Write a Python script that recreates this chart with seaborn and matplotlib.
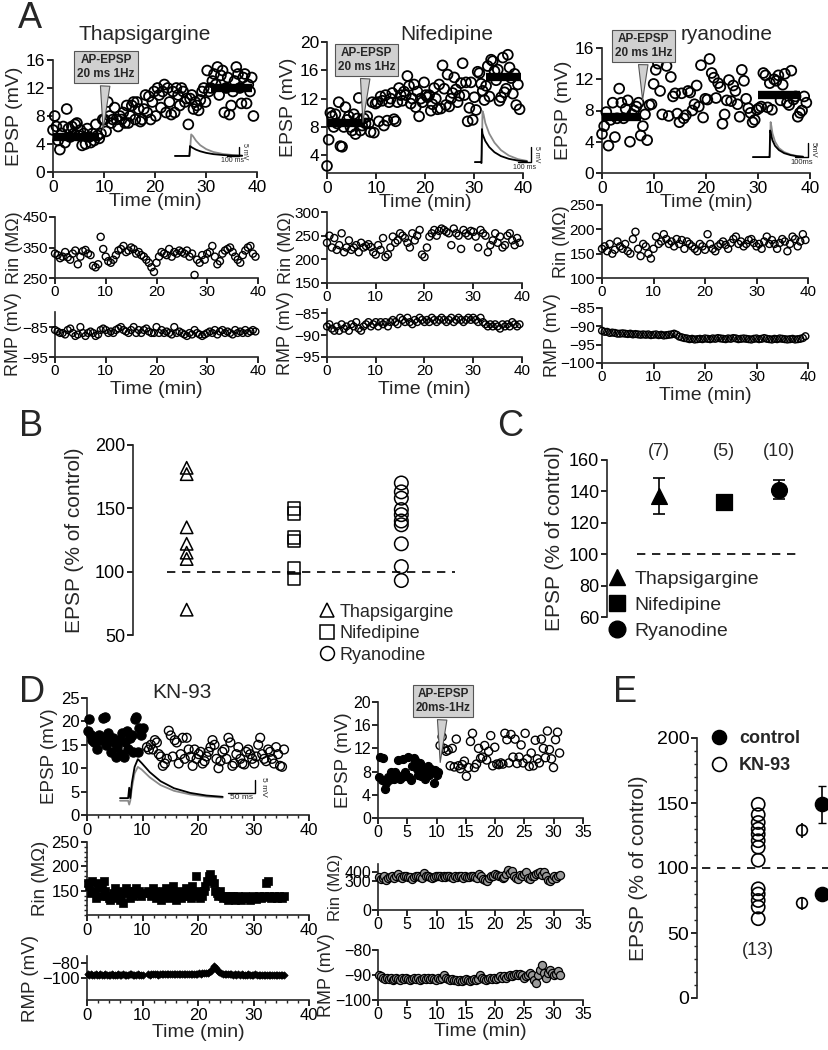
"""Multi-panel EPSP figure: time courses (A, D) and summary plots (B, C, E)."""
import matplotlib
matplotlib.use("Agg")
import matplotlib.pyplot as plt
import numpy as np
import seaborn as sns
from matplotlib.lines import Line2D
from matplotlib.ticker import MultipleLocator

# ---------------- panel A data ----------------
thap_epsp = [6, 8, 6.5, 4.5, 3.2, 5.5, 6.5, 4.2, 9, 6.2, 5, 6.5, 5.5, 6.8, 7, 5.2, 6, 3.8, 5.5, 4,
             6.2, 5, 4.2, 5.5, 4.5, 6.8, 5.2, 4.8, 5.5, 7.5,
             7.5, 5.8, 10, 8, 7, 7.5, 9.2, 7.5, 6.5, 8, 7.5, 8.5, 7, 9.5, 7, 8, 9.5, 10, 7.5, 10,
             9, 7.2, 7.5, 9, 11, 8.5, 10.8, 7.5, 10, 11.5,
             8, 12, 11, 9.2, 11.5, 12.5, 8.5, 12, 10, 8.2, 11.5, 8.5, 12, 11, 9.5, 12, 11.5, 10,
             10.5, 6.8, 10.5, 11, 9, 10, 9.5, 8.8, 10.3, 11.5, 12, 10,
             14.5, 11.5, 12, 13, 14, 12.5, 15, 11, 13.8, 14.5, 8.5, 12, 13.5, 8.2, 9.5, 11.5, 13,
             15, 14, 12, 9.8, 13.5, 14, 9.8, 12.5, 11.5, 13.5, 8]
nife_epsp = [2.5, 6.2, 10, 9.5, 8, 9.8, 8.5, 11.5, 5.3, 5.2, 8, 10.8, 9, 9.5, 8, 7.5, 9.8, 7, 9.2,
             12.1, 7.5, 8.2, 9.2, 8.5, 9.5, 8.5, 7.3, 11.5, 7.2, 11.3, 11.5, 8.8, 12.3, 11.7, 8.2,
             12.5, 8.9, 11.5, 12, 12.8, 9.1, 8.8, 11.5, 13.5, 12.5, 11.7, 13, 12.5, 15.2, 13.8,
             11.3, 12, 14, 10.8, 13, 9.5, 12, 11.5, 14.3, 12.5, 12.2, 12.5, 10.3, 11.2, 13.5, 12,
             10.5, 14, 10.6, 16.7, 13.4, 11.1, 15.4, 10.9, 12, 12.8, 15, 13.3, 11.5, 12.4, 14.2,
             17, 12.5, 14.3, 8.8, 10.7, 14.3, 9, 12.2, 10.4, 15.8, 15.6, 14.1, 13.1, 11.8, 13.8,
             16.6, 12.3, 17.5, 17.3, 15.9, 14.6, 16.1, 11.7, 12.2, 17.8, 12.9, 13.4, 18.2, 16.4,
             14.9, 12.7, 15.5, 11.1, 14, 10.5]
ryan_epsp = [5, 6, 7.8, 3.5, 6.8, 9, 4.6, 7, 10.8, 9, 7, 8.2, 9.3, 4, 7.5, 8, 8.5, 9, 4.8, 6, 7.5,
             4.2, 8.7, 8.8, 11.4, 13.2, 14, 10.5, 7.5, 14.8, 13.7, 7.3, 12.3, 9.8, 10.2, 7.6, 6.5,
             10.2, 7, 7.4, 10.5, 10.3, 8, 8.8, 11.2, 8.5, 13.8, 7.1, 9.5, 9.4, 14.6, 12.8, 12.2,
             9.6, 11.5, 11, 6.3, 7.5, 9.3, 11.9, 9.2, 11.2, 10.5, 8.8, 7.2, 13.2, 11.8, 9.5, 8.3,
             7.7, 6.5, 6.8, 8.1, 8.3, 8.5, 12.8, 12.5, 8.4, 11.5, 8.1, 12, 11.8, 12.5, 9.3, 11.3,
             12.7, 9, 8.7, 13.1, 9.4, 9.8, 7.2, 7.7, 8, 9.8, 9]
# mean bars before / after pairing: (level, start, end) in mV and min
thap_bars = [(5, 0, 9), (12, 31, 39)]
nife_bars = [(8.5, 0, 7.8), (15, 32.5, 39.5)]
ryan_bars = [(7.2, 0, 7.5), (10, 30, 38)]

thap_rin = [330, 325, 315, 320, 335, 318, 310, 330, 340, 295, 320, 338, 342, 330, 325, 290, 285,
            295, 385, 345, 320, 305, 300, 310, 325, 340, 345, 355, 335, 340, 350, 345, 330, 335,
            325, 320, 310, 300, 285, 270, 300, 320, 335, 330, 325, 345, 320, 335, 330, 340, 335,
            330, 340, 320, 330, 260, 310, 300, 325, 310, 330, 335, 355, 320, 295, 305, 330, 340,
            345, 350, 335, 320, 310, 300, 325, 340, 350, 355, 330, 320]
nife_rin = [235, 250, 225, 245, 220, 230, 255, 215, 225, 240, 220, 225, 230, 215, 235, 225, 228,
            232, 226, 215, 210, 230, 220, 245, 205, 210, 225, 248, 235, 240, 255, 250, 245, 235,
            225, 255, 240, 250, 262, 210, 205, 225, 248, 255, 262, 250, 260, 265, 262, 258, 255,
            230, 265, 255, 250, 222, 262, 255, 250, 260, 258, 248, 225, 262, 255, 250, 215, 230,
            240, 255, 235, 248, 225, 230, 250, 255, 240, 230, 245, 235]
ryan_rin = [160, 165, 155, 170, 150, 158, 175, 165, 160, 170, 155, 150, 180, 195, 160, 145, 170,
            165, 150, 140, 160, 185, 170, 175, 190, 180, 170, 175, 165, 180, 170, 178, 160, 175,
            170, 165, 160, 155, 170, 165, 158, 190, 170, 160, 155, 165, 170, 175, 168, 160, 172,
            180, 185, 170, 175, 165, 170, 178, 180, 172, 165, 170, 160, 175, 185, 170, 178, 170,
            160, 172, 180, 175, 155, 170, 185, 180, 165, 175, 190, 178]

thap_rmp = [-86, -86.5, -87, -87, -87.5, -86, -85.5, -87, -88, -87.5, -85, -87, -88, -87, -86.5,
            -87, -88, -87.5, -86, -85.5, -86, -87, -86.5, -87, -86, -85.5, -85, -86, -86.5, -87,
            -86, -85, -87, -86, -87, -86, -85.5, -86.5, -87, -87, -85, -87, -86, -87, -86.5, -87,
            -87.5, -85, -87, -86.5, -87, -87.5, -88, -87, -87.5, -86, -87, -87.5, -88, -87.5, -87,
            -86.5, -87, -86, -87.5, -86.5, -86, -87, -86.5, -87, -87.5, -86, -87, -86.5, -87, -86,
            -87, -86.5, -86, -86.5]
nife_rmp = [-88, -87.5, -88.5, -89, -88, -89, -87.5, -88.5, -88, -89, -87.5, -88, -87, -88.5, -89,
            -88, -87.5, -87, -88, -87.5, -87, -88, -87, -87.5, -87, -88, -87, -86.5, -87, -87.5,
            -86, -86.5, -87, -86, -87, -87.5, -86.5, -87, -86, -86.5, -87, -86.5, -87, -86,
            -86.5, -87, -86.5, -86, -86.5, -87, -86.5, -86, -87, -86.5, -86, -86.5, -87, -86.5,
            -86, -86.5, -86, -86.5, -87, -86, -87, -87.5, -88, -87.5, -88, -87.5, -88, -88.5,
            -87.5, -88, -87.5, -88, -87, -87.5, -88, -87.5]
ryan_rmp = [-91.2, -91.5, -91.5, -91.8, -91.7, -91.8, -92, -92, -91.9, -92, -92.1, -92, -92.2,
            -92.1, -92.2, -92.3, -92.2, -92.3, -92.2, -92.4, -92.3, -92.2, -92.4, -92.3, -92.5,
            -92.4, -92.3, -92.2, -92, -92.3, -92.8, -93, -93.2, -93.3, -93.5, -93.4, -93.6,
            -93.5, -93.4, -93.5, -93.3, -93.4, -93.5, -93.3, -93.4, -93.2, -93.3, -93.4, -93.5,
            -93.3, -93.4, -93.2, -93.3, -93.5, -93.4, -93.3, -93.4, -93.5, -93.6, -93.4, -93.3,
            -93.5, -93.4, -93.2, -93.4, -93.5, -93.6, -93.4, -93.5, -93.3, -93.4, -93.5, -93.6,
            -93.5, -93.4, -93.6, -93.5, -93.4, -93.2, -92.7]

# inset traces (ms, mV)
a1_t = [0, 110, 120, 125, 135, 150, 175, 210, 260, 320, 400, 480, 560]
a1_gray = [0, 0, 0, 3, 12, 11, 8.5, 6, 3.8, 2.2, 1.1, 0.5, 0.2]
a1_black = [0, 0, 0, 5.5, 5, 4.4, 3.5, 2.6, 1.7, 1, 0.5, 0.2, 0.1]
a2_t = [0, 45, 50, 54, 58, 66, 80, 110, 150, 200, 260, 330, 400]
a2_gray = [0, 0, -0.3, 3, 17, 16, 13, 9.5, 6.5, 4, 2.2, 1, 0.4]
a2_black = [0, 0, -0.3, 11, 9.5, 8.5, 7, 5, 3.3, 2, 1.1, 0.5, 0.2]
a3_t = [0, 120, 128, 132, 136, 142, 150, 170, 200, 240, 290, 340, 385]
a3_gray = [0, 0, 0, 4, 12.5, 11, 8.5, 5.5, 3.2, 1.8, 0.9, 0.4, 0.2]
a3_black = [0, 0, 0, 9.5, 9, 7.5, 6, 4, 2.5, 1.4, 0.7, 0.3, 0.1]
d_t = [0, 15, 17, 19, 22, 27, 33, 40, 55, 75, 100, 130, 160, 190]
d_gray = [-1, -1, -2.5, -1, 4, 9.5, 12, 11, 8, 5, 2.8, 1.4, 0.6, 0.2]
d_black = [0, 0, 4, 0, 6, 12, 15, 13.5, 10, 6.5, 3.8, 2, 1, 0.5]

# ---------------- panel B / C data ----------------
groups = ["Thapsigargine", "Nifedipine", "Ryanodine"]
b_thap = [182, 177, 135, 122, 115, 110, 70]
b_nife = [150, 146, 127, 124, 103, 94]
b_ryan = [170, 163, 158, 149, 145, 140, 137, 122, 104, 93]
c_mean = [137, 133, 141]
c_err = [11.5, 2, 6]
c_n = ["(7)", "(5)", "(10)"]

# ---------------- panel D data ----------------
kn_epsp_pre = [18, 20.5, 17, 16, 15.5, 16.5, 14, 17, 16, 16.5, 20.8, 21, 15, 17.5, 16, 13.5,
               16.5, 15.5, 12.5, 14.5, 16, 13, 17.5, 12.5, 15.5, 18, 14, 16.5, 17, 13.5, 20.5,
               21, 13.5, 18.5, 17, 18.5]
kn_epsp_post = [14.5, 14, 15, 14, 16, 15.5, 13, 12.5, 10.5, 11, 12, 18, 17, 12.5, 16, 15.5, 11,
                13, 16.5, 12, 16.5, 14, 12.5, 10.5, 14, 12, 13, 13.5, 11, 11.5, 12.5, 13.5,
                14.5, 16, 15, 12, 10, 11.5, 13.5, 14, 12, 16.5, 15.5, 10.5, 11, 13, 14.5, 12,
                11, 10.8, 13.5, 14, 13, 12, 11, 12.5, 15, 16.5, 13, 12, 11.5, 14, 13.5, 12, 11,
                14.5, 13, 10.5, 10.3, 14]
kn_rin_pre = [165, 160, 145, 170, 150, 135, 165, 155, 140, 160, 170, 150, 140, 135, 130, 140, 145,
              155, 135, 150, 130, 140, 125, 145, 155, 150, 135, 145, 140, 150, 155, 145, 150,
              140, 145]
kn_rin_post = [150, 145, 140, 155, 150, 135, 145, 140, 130, 150, 145, 155, 140, 135, 150, 160,
               145, 130, 140, 150, 135, 145, 140, 155, 150, 140, 135, 160, 145, 180, 140, 150,
               135, 140, 150, 160, 170, 180, 185, 175, 165, 150, 145, 140, 150, 140, 135, 140,
               135, 130, 140, 135, 140, 130, 135, 140, 135, 130, 135, 140, 138, 135, 130, 135,
               140, 135, 132, 138, 140, 135, 138, 140, 165, 170, 140, 135, 138, 140, 138, 135,
               140, 138, 135, 140]
kn_rmp_pre = [-95, -95.5, -95, -96, -95.5, -95, -96, -95.5, -95, -95.5, -96, -95, -95.5, -96,
              -95.5, -95, -95.5, -96, -95.5, -95, -96, -95.5, -95, -95.5, -96, -95.5, -95, -95,
              -95.5, -96, -95.5, -95, -95.5, -96, -95.5]
kn_rmp_post = [-95, -95.5, -95, -95, -94.5, -95, -95.5, -95, -94.5, -95, -95, -94.5, -95, -95,
               -94.5, -95, -95, -94.5, -94, -94.5, -95, -94.5, -94, -94.5, -94, -94.5, -94, -94,
               -94.5, -94, -93.5, -94, -93.5, -93, -93.5, -93, -92, -90, -87, -84, -87, -90,
               -92, -93.5, -94, -94.5, -95, -94.5, -95, -95, -95.5, -95, -95.5, -95, -95.5, -95,
               -95.5, -96, -95.5, -95, -95.5, -96, -95.5, -95, -95.5, -96, -95.5, -96, -95.5,
               -96, -96.5, -96, -95.5, -96, -96.5, -96, -96.5, -96, -96.5, -96, -96.5]
ctl_epsp_pre = [7, 10.5, 6.5, 10.3, 5, 6, 7, 6.5, 8, 7.5, 6.8, 8, 7.5, 10, 6.7, 7, 10.2, 8, 7.3,
                10.5, 7, 6.5, 9, 10.3, 10, 8.5, 7.5, 9.5, 7.2, 8.5, 6.8, 8.2, 9, 7.5, 8.5, 8, 6,
                8.2, 7.5, 8]
ctl_epsp_post = [12.5, 14, 12, 11.5, 11.7, 9, 12, 8.8, 13.6, 9, 8.5, 9.2, 9.8, 7.2, 8.7, 13.2,
                 14.6, 8.7, 9.3, 12, 10.3, 10.5, 12.5, 10, 11.5, 14.2, 9, 12.2, 9.3, 9.2, 9.5,
                 9.3, 14.6, 13.5, 9.5, 14.4, 10.5, 13.6, 9.4, 10.5, 12.6, 9.5, 14.6, 10.2, 8.9,
                 11.2, 9, 13.4, 10.2, 9.5, 13.6, 12, 10.4, 15, 11.8, 10.2, 8.7, 13.5, 14.8, 11.2]
ctl_rin = [340, 320, 330, 350, 310, 330, 340, 360, 330, 350, 380, 340, 330, 350, 360, 340, 345,
           320, 340, 350, 360, 340, 330, 390, 360, 350, 340, 330, 345, 350, 360, 355, 340, 350,
           345, 360, 350, 340, 330, 350, 340, 350, 360, 330, 350, 340, 345, 350, 360, 340, 330,
           380, 350, 320, 310, 300, 330, 350, 360, 380, 370, 350, 360, 330, 340, 380, 420, 390,
           410, 350, 330, 320, 370, 350, 380, 400, 330, 320, 350, 360, 380, 390, 400, 370, 400,
           360, 310, 300, 320, 350, 330, 360, 370]
ctl_rmp = [-90, -90.5, -91, -91.5, -91, -91.5, -91, -92, -91.5, -91, -91.5, -92, -91, -91.5, -91,
           -91.5, -92, -91.5, -91, -91.5, -91, -92, -91.5, -91, -91.5, -91, -91.5, -91, -91.5,
           -92, -91, -91.5, -91, -90, -91, -91.5, -92, -91.5, -92, -92, -92.5, -92, -92.5, -92,
           -91.5, -92, -92.5, -92, -91.5, -92, -91.5, -90, -91, -91.5, -92, -91.5, -91, -91.5,
           -91, -91.5, -91, -90.5, -91, -90.5, -91, -90.5, -90, -90.5, -90, -89.5, -90, -89.5,
           -90, -91, -90.5, -90, -89, -90, -92, -93, -90, -88, -86, -89, -91, -89, -88, -89,
           -90, -89.5, -88.5, -90]

# ---------------- panel E data ----------------
e_kn = [149, 141, 135, 130, 126, 121, 116, 106, 84, 80, 75, 70, 61]
e_kn_mean = [129, 73]
e_kn_err = [6, 5]
e_ctl_mean = [149, 80]
e_ctl_err = [14, 3]

# ---------------- figure ----------------
sns.set_style("ticks")
plt.rcParams["font.family"] = ["Liberation Sans", "DejaVu Sans"]
plt.rcParams["axes.linewidth"] = 1.2

W, H = 829, 1050
fig = plt.figure(figsize=(W / 100, H / 100), dpi=100)


def add_ax(l, t, r, b):
    ax = fig.add_axes([l / W, 1 - b / H, (r - l) / W, (b - t) / H])
    ax.patch.set_alpha(0)
    sns.despine(ax=ax)
    ax.tick_params(direction="out", length=4, width=1.2, pad=1.5, colors="black")
    return ax


def ftext(x, y, s, **kw):
    fig.text(x / W, 1 - y / H, s, **kw)


def dots(ax, t, v, s, fc="none", marker="o", lw=1.2):
    sns.scatterplot(x=t, y=v, ax=ax, marker=marker, s=s, facecolor=fc,
                    edgecolor="black", linewidth=lw, clip_on=False, zorder=3)


def callout(ax, text, tip, box):
    ax.annotate(text, xy=tip, xytext=box, ha="center", va="center", fontsize=8.5,
                fontweight="bold", annotation_clip=False, zorder=6,
                bbox=dict(boxstyle="square,pad=0.25", fc="#d0d0d0", ec="#555555", lw=0.8),
                arrowprops=dict(arrowstyle="wedge,tail_width=0.8,shrink_factor=0.5",
                                fc="#d0d0d0", ec="#555555", lw=0.8))


def trace_inset(box, xlim, ylim, t, gray, black, bar_t, bar_ms, bar_mv, bar_y,
                ms_text, mv_text, fs):
    l, tp, r, b = box
    ax = fig.add_axes([l / W, 1 - b / H, (r - l) / W, (b - tp) / H])
    ax.set_axis_off()
    sns.lineplot(x=t, y=gray, ax=ax, color="#8a8a8a", lw=1.3, estimator=None, sort=False)
    sns.lineplot(x=t, y=black, ax=ax, color="black", lw=1.3, estimator=None, sort=False)
    ax.plot([bar_t - bar_ms, bar_t, bar_t], [bar_y, bar_y, bar_y + bar_mv], color="black", lw=1)
    ax.text(bar_t - bar_ms / 2, bar_y - 0.6, ms_text, ha="center", va="top", fontsize=fs)
    ax.text(bar_t + (xlim[1] - xlim[0]) * 0.03, bar_y + bar_mv / 2, mv_text, rotation=-90,
            ha="left", va="center", fontsize=fs)
    ax.set_xlim(xlim)
    ax.set_ylim(ylim)


# ---- panel A ----
cols = [
    dict(title="Thapsigargine", tx=145, epsp=thap_epsp, bars=thap_bars,
         ebox=(53, 60, 257, 172), elim=(0, 16), eticks=[0, 4, 8, 12, 16],
         tip=(9.8, 5.6), boxc=(10.4, 15.0), btxt="AP-EPSP\n20 ms 1Hz",
         rin=thap_rin, rbox=(55, 217, 258, 278), rlim=(250, 450), rticks=[250, 350, 450],
         rmp=thap_rmp, mbox=(55, 312, 258, 357), mlim=(-95, -80), mticks=[-95, -85]),
    dict(title="Nifedipine", tx=447, epsp=nife_epsp, bars=nife_bars,
         ebox=(327, 42, 523, 173), elim=(1.5, 20), eticks=[4, 8, 12, 16, 20],
         tip=(7.3, 8.3), boxc=(8.0, 17.5), btxt="AP-EPSP\n20 ms 1Hz",
         rin=nife_rin, rbox=(327, 212, 522, 283), rlim=(150, 300),
         rticks=[150, 200, 250, 300],
         rmp=nife_rmp, mbox=(327, 309, 522, 357), mlim=(-95, -84), mticks=[-95, -90, -85]),
    dict(title="ryanodine", tx=727, epsp=ryan_epsp, bars=ryan_bars,
         ebox=(602, 48, 810, 173), elim=(0, 16), eticks=[0, 4, 8, 12, 16],
         tip=(7.8, 9.0), boxc=(8.0, 16.3), btxt="AP-EPSP\n20 ms 1Hz",
         rin=ryan_rin, rbox=(602, 205, 808, 278), rlim=(100, 250),
         rticks=[100, 150, 200, 250],
         rmp=ryan_rmp, mbox=(602, 308, 808, 363), mlim=(-100, -85),
         mticks=[-100, -95, -90, -85]),
]

for c in cols:
    ax = add_ax(*c["ebox"])
    dots(ax, np.linspace(0, 39.3, len(c["epsp"])), c["epsp"], 50, lw=1.3)
    for lvl, x0, x1 in c["bars"]:
        ax.hlines(lvl, x0, x1, color="black", lw=6, zorder=4)
    ax.set_xlim(0, 40)
    ax.set_ylim(*c["elim"])
    ax.set_xticks([0, 10, 20, 30, 40])
    ax.set_yticks(c["eticks"])
    ax.tick_params(labelsize=12.5)
    ax.set_ylabel("EPSP (mV)", fontsize=14, labelpad=2)
    ax.set_xlabel("Time (min)", fontsize=14, labelpad=-1)
    callout(ax, c["btxt"], c["tip"], c["boxc"])
    ftext(c["tx"], 35, c["title"], fontsize=15, ha="center", va="center")

    ax = add_ax(*c["rbox"])
    dots(ax, np.linspace(0, 39.5, len(c["rin"])), c["rin"], 26, lw=1.0)
    ax.set_xlim(0, 40)
    ax.set_ylim(*c["rlim"])
    ax.set_xticks([0, 10, 20, 30, 40])
    ax.set_yticks(c["rticks"])
    ax.tick_params(labelsize=11, pad=1)
    ax.set_ylabel("Rin (M\u03a9)", fontsize=13, labelpad=0)

    ax = add_ax(*c["mbox"])
    dots(ax, np.linspace(0, 39.5, len(c["rmp"])), c["rmp"], 24, lw=1.0)
    ax.set_xlim(0, 40)
    ax.set_ylim(*c["mlim"])
    ax.set_xticks([0, 10, 20, 30, 40])
    ax.set_yticks(c["mticks"])
    ax.tick_params(labelsize=11, pad=1)
    ax.set_ylabel("RMP (mV)", fontsize=13, labelpad=0)
    ax.set_xlabel("Time (min)", fontsize=14, labelpad=2)

trace_inset((172, 122, 252, 166), (-25, 642), (-5.6, 18.9), a1_t, a1_gray, a1_black,
            533, 100, 5, 0, "100 ms", "5 mV", 5)
trace_inset((470, 100, 545, 172), (-38, 539), (-3.3, 20.7), a2_t, a2_gray, a2_black,
            431, 100, 5, 0, "100 ms", "5 mV", 5)
trace_inset((748, 110, 822, 170), (-38, 531), (-4.6, 16.8), a3_t, a3_gray, a3_black,
            423, 100, 5, 0, "100ms", "5mV", 5.5)

# ---- panel B ----
ax = add_ax(133, 445, 455, 635)
ax.spines["bottom"].set_visible(False)
for i, (vals, mk, sz) in enumerate([(b_thap, "^", 80), (b_nife, "s", 80), (b_ryan, "o", 95)]):
    dots(ax, np.full(len(vals), i + 1.0), vals, sz, marker=mk, lw=1.1)
ax.hlines(100, 0.82, 3.5, color="black", lw=1.2, linestyles=(0, (5, 4)))
ax.set_xlim(0.5, 3.5)
ax.set_ylim(50, 200)
ax.set_yticks([50, 100, 150, 200])
ax.set_xticks([])
ax.tick_params(labelsize=13)
ax.set_ylabel("EPSP (% of control)", fontsize=15, labelpad=8)
handles = [Line2D([], [], ls="", marker=m, ms=10, mfc="none", mec="black", mew=1.1)
           for m in ["^", "s", "o"]]
ax.legend(handles, groups, loc="upper left", bbox_to_anchor=(0.58, 0.165), frameon=False,
          fontsize=13, handlelength=0.8, handletextpad=0.3, labelspacing=0.25,
          borderpad=0, borderaxespad=0)

# ---- panel C ----
ax = add_ax(607, 460, 800, 617)
ax.spines["bottom"].set_visible(False)
for i, mk in enumerate(["^", "s", "o"]):
    xi = i + 1.0 + (0.08 if i == 1 else 0)
    ax.errorbar(xi, c_mean[i], yerr=c_err[i], fmt="none",
                ecolor="black", elinewidth=1.2, capsize=4, capthick=1.2, zorder=2)
    sns.scatterplot(x=[xi], y=[c_mean[i]], ax=ax, marker=mk,
                    s=130, color="black", edgecolor="black", zorder=3, clip_on=False)
    ax.text(xi, 160, c_n[i], ha="center", va="bottom", fontsize=13)
ax.hlines(100, 0.63, 3.3, color="black", lw=1.2, linestyles=(0, (5, 4)))
ax.set_xlim(0.13, 3.35)
ax.set_ylim(60, 160)
ax.set_yticks([60, 80, 100, 120, 140, 160])
ax.set_xticks([])
ax.tick_params(labelsize=13)
ax.set_ylabel("EPSP (% of control)", fontsize=15, labelpad=4)
handles = [Line2D([], [], ls="", marker=m, ms=12, mfc="black", mec="black")
           for m in ["^", "s", "o"]]
ax.legend(handles, groups, loc="upper left", bbox_to_anchor=(0.0, 0.3), frameon=False,
          fontsize=14, handlelength=1.0, handletextpad=0.4, labelspacing=0.45,
          borderpad=0, borderaxespad=0)

# ---- panel D (left: KN-93) ----
DL, DR = 87, 309
ax = add_ax(DL, 698, DR, 815)
dots(ax, np.linspace(0.1, 10, len(kn_epsp_pre)), kn_epsp_pre, 45, fc="black", lw=0.8)
dots(ax, np.linspace(10.8, 35.5, len(kn_epsp_post)), kn_epsp_post, 40, lw=1.0)
ax.set_xlim(0, 40)
ax.set_ylim(0, 25)
ax.set_xticks([0, 10, 20, 30, 40])
ax.set_yticks([0, 5, 10, 15, 20, 25])
ax.xaxis.set_minor_locator(MultipleLocator(2))
ax.tick_params(labelsize=12)
ax.tick_params(which="minor", direction="out", length=2, width=1)
ax.set_ylabel("EPSP (mV)", fontsize=13.5, labelpad=2)
ftext(182, 693, "KN-93", fontsize=15, ha="center", va="center")

ax = add_ax(DL, 842, DR, 915)
dots(ax, np.linspace(0.1, 10, len(kn_rin_pre)), kn_rin_pre, 28, fc="black", marker="s", lw=0.5)
dots(ax, np.linspace(11, 35.5, len(kn_rin_post)), kn_rin_post, 28, fc="black", marker="s",
     lw=0.5)
ax.set_xlim(0, 40)
ax.set_ylim(100, 250)
ax.set_xticks([0, 10, 20, 30, 40])
ax.set_yticks([150, 200, 250])
ax.xaxis.set_minor_locator(MultipleLocator(2))
ax.yaxis.set_minor_locator(MultipleLocator(10))
ax.tick_params(labelsize=12)
ax.tick_params(which="minor", direction="out", length=2, width=1)
ax.set_ylabel("Rin (M\u03a9)", fontsize=13.5, labelpad=2)

ax = add_ax(DL, 956, DR, 1000)
dots(ax, np.linspace(0.1, 10, len(kn_rmp_pre)), kn_rmp_pre, 14, fc="black", marker="D", lw=0.5)
dots(ax, np.linspace(11, 35.5, len(kn_rmp_post)), kn_rmp_post, 14, fc="black", marker="D",
     lw=0.5)
ax.set_xlim(0, 40)
ax.set_ylim(-130, -70)
ax.set_xticks([0, 10, 20, 30, 40])
ax.set_yticks([-100, -80])
ax.xaxis.set_minor_locator(MultipleLocator(2))
ax.tick_params(labelsize=12)
ax.tick_params(which="minor", direction="out", length=2, width=1)
ax.set_ylabel("RMP (mV)", fontsize=13.5, labelpad=2)
ax.set_xlabel("Time (min)", fontsize=14, labelpad=1)

trace_inset((115, 750, 270, 808), (-9.3, 277.7), (-3.8, 18.5), d_t, d_gray, d_black,
            250, 50, 5, 2, "50 ms", "5 mV", 6)

# ---- panel D (right: control) ----
ax = add_ax(378, 702, 583, 818)
dots(ax, np.linspace(0.1, 10.3, len(ctl_epsp_pre)), ctl_epsp_pre, 34, fc="black", lw=0.8)
dots(ax, np.linspace(10.6, 31, len(ctl_epsp_post)), ctl_epsp_post, 34, lw=1.0)
ax.set_xlim(0, 35)
ax.set_ylim(0, 20)
ax.set_xticks([0, 5, 10, 15, 20, 25, 30, 35])
ax.set_yticks([0, 4, 8, 12, 16, 20])
ax.tick_params(labelsize=11.5, pad=1)
ax.set_ylabel("EPSP (mV)", fontsize=13.5, labelpad=1)
callout(ax, "AP-EPSP\n20ms-1Hz", (10.6, 9.1), (11.1, 20.2))

ax = add_ax(378, 864, 583, 910)
dots(ax, np.linspace(0.1, 31, len(ctl_rin)), ctl_rin, 34, fc="#9a9a9a", lw=0.9)
ax.set_xlim(0, 35)
ax.set_ylim(0, 480)
ax.set_xticks([0, 5, 10, 15, 20, 25, 30, 35])
ax.set_yticks([0, 300, 400])
ax.tick_params(labelsize=11.5, pad=1)
ax.set_ylabel("Rin (M\u03a9)", fontsize=12, labelpad=1)

ax = add_ax(378, 950, 583, 1000)
dots(ax, np.linspace(0.1, 31, len(ctl_rmp)), ctl_rmp, 34, fc="#9a9a9a", lw=0.9)
ax.set_xlim(0, 35)
ax.set_ylim(-100, -80)
ax.set_xticks([0, 5, 10, 15, 20, 25, 30, 35])
ax.set_yticks([-100, -90, -80])
ax.tick_params(labelsize=11.5, pad=1)
ax.set_ylabel("RMP (mV)", fontsize=13, labelpad=0)
ax.set_xlabel("Time (min)", fontsize=14, labelpad=1)

# ---- panel E ----
ax = add_ax(697, 738, 829, 998)
ax.spines["bottom"].set_visible(False)
dots(ax, np.full(len(e_kn), 1.02), e_kn, 90, lw=1.2)
ax.errorbar([1.75, 1.75], e_kn_mean, yerr=e_kn_err, fmt="none", ecolor="black",
            elinewidth=1.2, zorder=2)
dots(ax, [1.75, 1.75], e_kn_mean, 60, lw=1.2)
ax.errorbar([2.08, 2.08], e_ctl_mean, yerr=e_ctl_err, fmt="none", ecolor="black",
            elinewidth=1.2, capsize=3, zorder=2)
dots(ax, [2.08, 2.08], e_ctl_mean, 105, fc="black", lw=1.0)
ax.hlines(100, 0.08, 2.2, color="black", lw=1.2, linestyles=(0, (5, 4)))
ax.text(1.02, 43, "(13)", ha="center", va="top", fontsize=13)
ax.set_xlim(0, 2.2)
ax.set_ylim(0, 200)
ax.set_yticks([0, 50, 100, 150, 200])
ax.yaxis.set_minor_locator(MultipleLocator(10))
ax.set_xticks([])
ax.tick_params(labelsize=14)
ax.tick_params(which="minor", direction="out", length=2.5, width=1)
ax.set_ylabel("EPSP (% of control)", fontsize=15, labelpad=6)
handles = [Line2D([], [], ls="", marker="o", ms=10, mfc=fc, mec="black", mew=1.2)
           for fc in ["black", "none"]]
ax.legend(handles, ["control", "KN-93"], loc="upper left", bbox_to_anchor=(0.1, 1.03),
          frameon=False, prop=dict(weight="bold", size=13), handlelength=1.0,
          handletextpad=0.6, labelspacing=0.55, borderpad=0, borderaxespad=0)

# ---- panel letters ----
for x, y, s in [(30, 18, "A"), (31, 426, "B"), (510, 426, "C"), (32, 692, "D"), (625, 692, "E")]:
    ftext(x, y, s, fontsize=26, ha="center", va="center")

fig.savefig("out.png", dpi=100)
